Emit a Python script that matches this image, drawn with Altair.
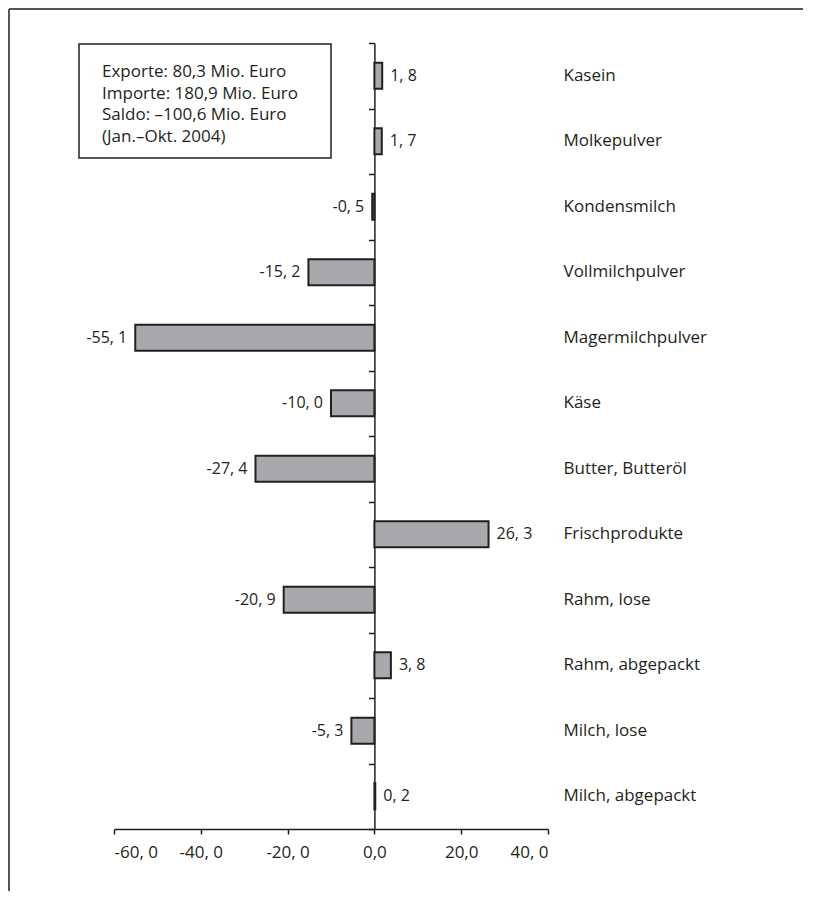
import altair as alt
import pandas as pd

categories = ["Kasein", "Molkepulver", "Kondensmilch", "Vollmilchpulver",
              "Magermilchpulver", "Käse", "Butter, Butteröl", "Frischprodukte",
              "Rahm, lose", "Rahm, abgepackt", "Milch, lose", "Milch, abgepackt"]
values = [1.8, 1.7, -0.5, -15.2, -55.1, -10.0, -27.4, 26.3, -20.9, 3.8, -5.3, 0.2]
value_labels = ["1, 8", "1, 7", "-0, 5", "-15, 2", "-55, 1", "-10, 0", "-27, 4",
                "26, 3", "-20, 9", "3, 8", "-5, 3", "0, 2"]
x_ticks = [-60, -40, -20, 0, 20, 40]
x_tick_labels = ["-60, 0", "-40, 0", "-20, 0", "0,0", "20,0", "40, 0"]
box_lines = ["Exporte: 80,3 Mio. Euro", "Importe: 180,9 Mio. Euro",
             "Saldo: \u2013100,6 Mio. Euro", "(Jan.\u2013Okt. 2004)"]

W, H = 434, 786
XMIN, XMAX = -60, 40
PAD_L, PAD_T = 106, 35
INK = "#231f20"
FONT = "Open Sans"
FS = 17
FS_VAL = 16

df = pd.DataFrame({"cat": categories, "val": values, "lab": value_labels})

label_expr = " : ".join(
    f"datum.value == {v} ? '{l}'" for v, l in zip(x_ticks, x_tick_labels)) + " : ''"

xscale = alt.Scale(domain=[XMIN, XMAX], nice=False, zero=False)
yscale = alt.Scale(domain=categories, paddingInner=0, paddingOuter=0)

x_axis = alt.Axis(values=x_ticks, labelExpr=label_expr, grid=False,
                  domainColor=INK, domainWidth=1.5, tickColor=INK,
                  tickWidth=1.5, tickSize=5, labelPadding=10,
                  labelFont=FONT, labelFontSize=FS, labelColor=INK)

offset_zero = -(0 - XMIN) / (XMAX - XMIN) * W

bars = alt.Chart(df).mark_bar(
    fill="#a7a9ac", stroke=INK, strokeWidth=2, clip=False,
    height={"band": 0.4}
).encode(
    x=alt.X("val:Q", scale=xscale, title=None, axis=x_axis),
    x2=alt.datum(0),
    y=alt.Y("cat:N", scale=yscale, title=None, sort=categories,
            axis=alt.Axis(orient="left", offset=offset_zero, labels=False,
                          tickBand="extent", tickSize=6, tickColor=INK,
                          tickWidth=1.5, domainColor=INK, domainWidth=1.5,
                          grid=False)),
)

cat_axis = alt.Chart(df).mark_point(opacity=0).encode(
    y=alt.Y("cat:N", scale=yscale, title=None, sort=categories,
            axis=alt.Axis(orient="right", domain=False, ticks=False,
                          labelPadding=15, labelAlign="left", labelFont=FONT,
                          labelFontSize=FS, labelColor=INK, grid=False)),
)

pos_text = alt.Chart(df).transform_filter("datum.val >= 0").mark_text(
    align="left", baseline="middle", dx=8, font=FONT, fontSize=FS_VAL, color=INK
).encode(x=alt.X("val:Q", scale=xscale, title=None, axis=x_axis),
         y=alt.Y("cat:N", scale=yscale, sort=categories, axis=None),
         text="lab:N")

neg_text = alt.Chart(df).transform_filter("datum.val < 0").mark_text(
    align="right", baseline="middle", dx=-8, font=FONT, fontSize=FS_VAL, color=INK
).encode(x=alt.X("val:Q", scale=xscale, title=None, axis=x_axis),
         y=alt.Y("cat:N", scale=yscale, sort=categories, axis=None),
         text="lab:N")

one = pd.DataFrame({"k": [0]})

box = alt.Chart(one).mark_rect(fill="white", stroke=INK, strokeWidth=1.5).encode(
    x=alt.value(79 - 114), x2=alt.value(331 - 114),
    y=alt.value(44 - 43), y2=alt.value(158 - 43))

box_text = alt.Chart(one).mark_text(
    text=box_lines, align="left", baseline="middle", lineHeight=21.5,
    font=FONT, fontSize=FS, color=INK
).encode(x=alt.value(102 - 114), y=alt.value(72 - 43))

frame_top = alt.Chart(one).mark_rule(color="#555555", strokeWidth=2).encode(
    x=alt.value(-PAD_L + 1), x2=alt.value(W + 300), y=alt.value(-PAD_T + 1))
frame_left = alt.Chart(one).mark_rule(color="#555555", strokeWidth=2).encode(
    x=alt.value(-PAD_L + 1), y=alt.value(-PAD_T + 1), y2=alt.value(H + 100))

chart = alt.layer(
    frame_top, frame_left, bars, cat_axis, pos_text, neg_text, box, box_text
).resolve_axis(y="independent").properties(
    width=W, height=H,
    autosize=alt.AutoSizeParams(type="none"),
    padding={"left": PAD_L, "top": PAD_T, "right": 255, "bottom": 62},
).configure_view(stroke=None)

chart.save("out.html", embed_options={"renderer": "svg", "actions": False})
